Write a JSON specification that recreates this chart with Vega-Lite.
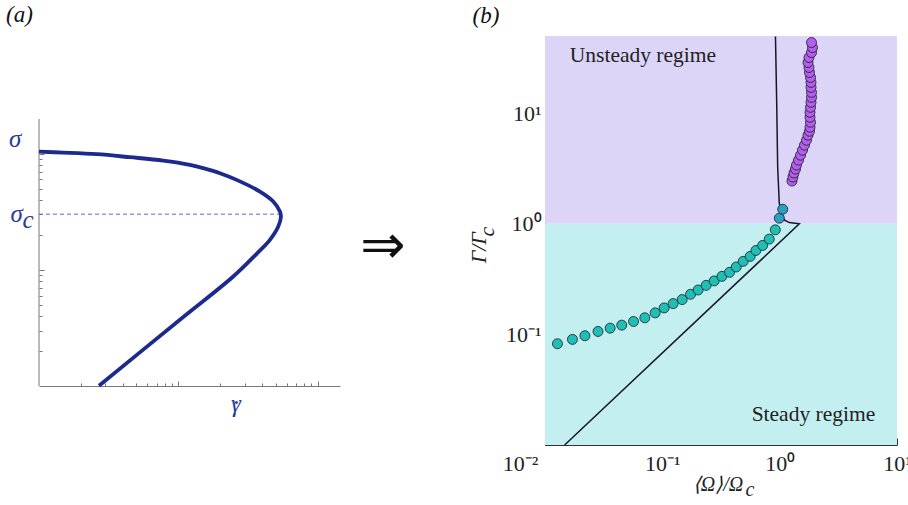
{
  "$schema": "https://vega.github.io/schema/vega-lite/v6.json",
  "background": "white",
  "padding": {"left": 6, "top": 4, "right": 0, "bottom": 0},
  "spacing": 61,
  "config": {"view": {"stroke": null}, "font": "Liberation Serif"},
  "hconcat": [
    {
      "width": 301,
      "height": 350,
      "layer": [
        {
          "data": {"values": [{"x1": 0.1, "x2": 5.46, "y": 3.01}]},
          "mark": {"type": "rule", "color": "#5a6ac8", "strokeWidth": 1, "strokeDash": [4, 3]},
          "encoding": {
            "x": {"field": "x1", "type": "quantitative", "scale": {"type": "log", "domain": [0.1, 14.5], "nice": false},
              "axis": {"orient": "bottom", "values": [0.2,0.3,0.4,0.5,0.6,0.7,0.8,0.9,1,2,3,4,5,6,7,8,9,10], "labels": false, "title": null, "grid": false, "domainColor": "#777", "tickColor": "#777",
                "tickSize": {"condition": {"test": "datum.value == 1 || datum.value == 10", "value": -5}, "value": -3}}},
            "x2": {"field": "x2"},
            "y": {"field": "y", "type": "quantitative", "scale": {"type": "log", "domain": [0.1, 102.8], "nice": false},
              "axis": {"orient": "left", "values": [0.2,0.3,0.4,0.5,0.6,0.7,0.8,0.9,1,2,3,4,5,6,7,8,9,10], "labels": false, "title": null, "grid": false, "domain": false, "tickColor": "#777",
                "tickSize": {"condition": {"test": "datum.value == 1 || datum.value == 10", "value": -5}, "value": -3}}}
          }
        },
        {
          "data": {"values": [{"x": 0.1, "y1": 0.1, "y2": 19.87}]},
          "mark": {"type": "rule", "color": "#777", "strokeWidth": 1},
          "encoding": {
            "x": {"field": "x", "type": "quantitative"},
            "y": {"field": "y1", "type": "quantitative"},
            "y2": {"field": "y2"}
          }
        },
        {
          "data": {"values": [
            {"x": 0.1, "y": 10.38, "o": 1},
            {"x": 0.1494, "y": 10.2, "o": 2},
            {"x": 0.2596, "y": 9.88, "o": 3},
            {"x": 0.4499, "y": 9.31, "o": 4},
            {"x": 0.7804, "y": 8.71, "o": 5},
            {"x": 1.213, "y": 8.0, "o": 6},
            {"x": 1.512, "y": 7.49, "o": 7},
            {"x": 1.992, "y": 6.785, "o": 8},
            {"x": 2.626, "y": 5.94, "o": 9},
            {"x": 3.86, "y": 4.71, "o": 10},
            {"x": 4.808, "y": 3.87, "o": 11},
            {"x": 5.373, "y": 3.172, "o": 12},
            {"x": 5.463, "y": 2.873, "o": 13},
            {"x": 5.224, "y": 2.357, "o": 14},
            {"x": 4.552, "y": 1.811, "o": 15},
            {"x": 3.655, "y": 1.373, "o": 16},
            {"x": 2.47, "y": 0.8706, "o": 17},
            {"x": 1.028, "y": 0.3715, "o": 18},
            {"x": 0.2697, "y": 0.1006, "o": 19}
          ]},
          "mark": {"type": "line", "color": "#1c2a8e", "strokeWidth": 3.8, "interpolate": "catmull-rom"},
          "encoding": {
            "x": {"field": "x", "type": "quantitative"},
            "y": {"field": "y", "type": "quantitative"},
            "order": {"field": "o", "type": "quantitative"}
          }
        },
        {
          "data": {"values": [
            {"x": 0.0673, "y": 11.42, "t": "σ"},
            {"x": 0.069, "y": 2.587, "t": "σ"},
            {"x": 0.0835, "y": 2.297, "t": "c"},
            {"x": 2.59, "y": 0.0601, "t": "γ"}
          ]},
          "mark": {"type": "text", "font": "Liberation Serif", "fontSize": 25, "fontStyle": "italic", "color": "#2b3a9b", "align": "center", "baseline": "alphabetic"},
          "encoding": {
            "x": {"field": "x", "type": "quantitative"},
            "y": {"field": "y", "type": "quantitative"},
            "text": {"field": "t"}
          }
        },
        {
          "data": {"values": [{"x": 2.617, "y": 0.0705, "t": "."}]},
          "mark": {"type": "text", "font": "Liberation Serif", "fontSize": 25, "color": "#2b3a9b", "align": "center", "baseline": "alphabetic"},
          "encoding": {
            "x": {"field": "x", "type": "quantitative"},
            "y": {"field": "y", "type": "quantitative"},
            "text": {"field": "t"}
          }
        },
        {
          "data": {"values": [{"x": 0.058, "y": 135.6, "t": "(a)"}]},
          "mark": {"type": "text", "font": "Liberation Serif", "fontSize": 23, "fontStyle": "italic", "color": "#111", "align": "left", "baseline": "alphabetic"},
          "encoding": {
            "x": {"field": "x", "type": "quantitative"},
            "y": {"field": "y", "type": "quantitative"},
            "text": {"field": "t"}
          }
        },
        {
          "data": {"values": [{"x": 29.4, "y": 1.58, "t": "⇒"}]},
          "mark": {"type": "text", "font": "DejaVu Sans", "fontSize": 54, "color": "#111", "align": "center", "baseline": "middle"},
          "encoding": {
            "x": {"field": "x", "type": "quantitative"},
            "y": {"field": "y", "type": "quantitative"},
            "text": {"field": "t"}
          }
        }
      ]
    },
    {
      "width": 352,
      "height": 409,
      "layer": [
        {
          "data": {"values": [
            {"x1": 0.01, "x2": 10, "y1": 1, "y2": 50, "region": "unsteady"},
            {"x1": 0.01, "x2": 10, "y1": 0.01, "y2": 1, "region": "steady"}
          ]},
          "mark": {"type": "rect"},
          "encoding": {
            "x": {"field": "x1", "type": "quantitative", "scale": {"type": "log", "domain": [0.01, 10], "nice": false},
              "axis": {"orient": "bottom", "values": [0.01,0.02,0.03,0.04,0.05,0.06,0.07,0.08,0.09,0.1,0.2,0.3,0.4,0.5,0.6,0.7,0.8,0.9,1,2,3,4,5,6,7,8,9,10],
                "labelExpr": "datum.value == 0.01 ? '10⁻²' : datum.value == 0.1 ? '10⁻¹' : datum.value == 1 ? '10⁰' : datum.value == 10 ? '10¹' : ''",
                "title": null, "grid": false, "domainColor": "#333", "tickColor": "#333", "labelFlush": false, "labelOverlap": false,
                "labelFont": "Liberation Serif", "labelFontSize": 22, "labelColor": "#222", "labelPadding": 15,
                "labelOffset": {"condition": {"test": "datum.value == 0.01", "value": -25}, "value": 0},
                "tickSize": {"condition": {"test": "indexof([0.01,0.1,1,10], datum.value) >= 0", "value": -7}, "value": -4}}},
            "x2": {"field": "x2"},
            "y": {"field": "y1", "type": "quantitative", "scale": {"type": "log", "domain": [0.01, 50], "nice": false},
              "axis": {"orient": "left", "values": [0.01,0.02,0.03,0.04,0.05,0.06,0.07,0.08,0.09,0.1,0.2,0.3,0.4,0.5,0.6,0.7,0.8,0.9,1,2,3,4,5,6,7,8,9,10,20,30,40],
                "labelExpr": "datum.value == 0.1 ? '10⁻¹' : datum.value == 1 ? '10⁰' : datum.value == 10 ? '10¹' : ''",
                "title": null, "grid": false, "domainColor": "#333", "tickColor": "#333", "labelFlush": false, "labelOverlap": false,
                "labelFont": "Liberation Serif", "labelFontSize": 22, "labelColor": "#222", "labelPadding": 11,
                "tickSize": {"condition": {"test": "indexof([0.01,0.1,1,10], datum.value) >= 0", "value": -7}, "value": -4}}},
            "y2": {"field": "y2"},
            "fill": {"field": "region", "type": "nominal", "scale": {"domain": ["unsteady", "steady"], "range": ["#ddd5f8", "#c4eff0"]}, "legend": null}
          }
        },
        {
          "data": {"values": [
            {"x": 0.0147, "y": 0.01, "o": 1},
            {"x": 1.47, "y": 1.0, "o": 2},
            {"x": 1.207, "y": 1.027, "o": 3},
            {"x": 1.094, "y": 1.086, "o": 4},
            {"x": 1.04, "y": 1.249, "o": 5},
            {"x": 0.992, "y": 1.536, "o": 6},
            {"x": 0.9768, "y": 2.246, "o": 7},
            {"x": 0.9614, "y": 3.283, "o": 8},
            {"x": 0.9427, "y": 13.1, "o": 9},
            {"x": 0.921, "y": 49.4, "o": 10}
          ]},
          "mark": {"type": "line", "color": "#16162a", "strokeWidth": 1.5},
          "encoding": {
            "x": {"field": "x", "type": "quantitative"},
            "y": {"field": "y", "type": "quantitative"},
            "order": {"field": "o", "type": "quantitative"}
          }
        },
        {
          "data": {"values": [
            {"x": 0.01277, "y": 0.0824, "g": "steady"},
            {"x": 0.01714, "y": 0.0902, "g": "steady"},
            {"x": 0.0219, "y": 0.0973, "g": "steady"},
            {"x": 0.0283, "y": 0.1064, "g": "steady"},
            {"x": 0.0359, "y": 0.114, "g": "steady"},
            {"x": 0.0451, "y": 0.1213, "g": "steady"},
            {"x": 0.0568, "y": 0.131, "g": "steady"},
            {"x": 0.0709, "y": 0.1413, "g": "steady"},
            {"x": 0.0869, "y": 0.1567, "g": "steady"},
            {"x": 0.1036, "y": 0.1738, "g": "steady"},
            {"x": 0.1236, "y": 0.19, "g": "steady"},
            {"x": 0.1476, "y": 0.2066, "g": "steady"},
            {"x": 0.174, "y": 0.2307, "g": "steady"},
            {"x": 0.2019, "y": 0.2524, "g": "steady"},
            {"x": 0.2364, "y": 0.278, "g": "steady"},
            {"x": 0.2767, "y": 0.3048, "g": "steady"},
            {"x": 0.322, "y": 0.335, "g": "steady"},
            {"x": 0.374, "y": 0.3646, "g": "steady"},
            {"x": 0.4263, "y": 0.4074, "g": "steady"},
            {"x": 0.489, "y": 0.458, "g": "steady"},
            {"x": 0.561, "y": 0.508, "g": "steady"},
            {"x": 0.628, "y": 0.575, "g": "steady"},
            {"x": 0.716, "y": 0.638, "g": "steady"},
            {"x": 0.815, "y": 0.728, "g": "steady"},
            {"x": 0.918, "y": 0.883, "g": "steady"},
            {"x": 0.993, "y": 1.125, "g": "transition"},
            {"x": 1.062, "y": 1.356, "g": "transition"},
            {"x": 1.274, "y": 2.44, "g": "unsteady"},
            {"x": 1.298, "y": 2.65, "g": "unsteady"},
            {"x": 1.324, "y": 2.88, "g": "unsteady"},
            {"x": 1.364, "y": 3.13, "g": "unsteady"},
            {"x": 1.391, "y": 3.4, "g": "unsteady"},
            {"x": 1.447, "y": 3.77, "g": "unsteady"},
            {"x": 1.505, "y": 4.18, "g": "unsteady"},
            {"x": 1.565, "y": 4.64, "g": "unsteady"},
            {"x": 1.628, "y": 5.15, "g": "unsteady"},
            {"x": 1.693, "y": 5.71, "g": "unsteady"},
            {"x": 1.744, "y": 6.34, "g": "unsteady"},
            {"x": 1.796, "y": 6.88, "g": "unsteady"},
            {"x": 1.814, "y": 7.48, "g": "unsteady"},
            {"x": 1.832, "y": 8.3, "g": "unsteady"},
            {"x": 1.814, "y": 9.2, "g": "unsteady"},
            {"x": 1.814, "y": 10.21, "g": "unsteady"},
            {"x": 1.832, "y": 11.33, "g": "unsteady"},
            {"x": 1.85, "y": 12.56, "g": "unsteady"},
            {"x": 1.868, "y": 13.94, "g": "unsteady"},
            {"x": 1.868, "y": 15.46, "g": "unsteady"},
            {"x": 1.85, "y": 17.15, "g": "unsteady"},
            {"x": 1.85, "y": 19.02, "g": "unsteady"},
            {"x": 1.832, "y": 21.1, "g": "unsteady"},
            {"x": 1.796, "y": 23.4, "g": "unsteady"},
            {"x": 1.778, "y": 25.96, "g": "unsteady"},
            {"x": 1.744, "y": 28.8, "g": "unsteady"},
            {"x": 1.778, "y": 31.96, "g": "unsteady"},
            {"x": 1.868, "y": 35.4, "g": "unsteady"},
            {"x": 1.905, "y": 39.3, "g": "unsteady"},
            {"x": 1.868, "y": 43.6, "g": "unsteady"}
          ]},
          "mark": {"type": "circle", "size": 100, "opacity": 1, "stroke": "#1a1a1a", "strokeWidth": 0.8},
          "encoding": {
            "x": {"field": "x", "type": "quantitative"},
            "y": {"field": "y", "type": "quantitative"},
            "color": {"field": "g", "type": "nominal", "scale": {"domain": ["steady", "transition", "unsteady"], "range": ["#1fbfb8", "#2a9fc4", "#b25ff0"]}, "legend": null}
          }
        },
        {
          "data": {"values": [
            {"x": 0.01626, "y": 28.8, "t": "Unsteady regime"},
            {"x": 0.577, "y": 0.01656, "t": "Steady regime"}
          ]},
          "mark": {"type": "text", "font": "Liberation Serif", "fontSize": 21.5, "color": "#222", "align": "left", "baseline": "alphabetic"},
          "encoding": {
            "x": {"field": "x", "type": "quantitative"},
            "y": {"field": "y", "type": "quantitative"},
            "text": {"field": "t"}
          }
        },
        {
          "data": {"values": [{"x": 0.002415, "y": 66, "t": "(b)"}]},
          "mark": {"type": "text", "font": "Liberation Serif", "fontSize": 23, "fontStyle": "italic", "color": "#111", "align": "left", "baseline": "alphabetic"},
          "encoding": {
            "x": {"field": "x", "type": "quantitative"},
            "y": {"field": "y", "type": "quantitative"},
            "text": {"field": "t"}
          }
        },
        {
          "data": {"values": [
            {"x": 0.298, "y": 0.00385, "t": "⟨Ω⟩/Ω"},
            {"x": 0.558, "y": 0.00347, "t": "c"}
          ]},
          "mark": {"type": "text", "font": "Liberation Serif", "fontSize": 20, "fontStyle": "italic", "color": "#222", "align": "center", "baseline": "alphabetic"},
          "encoding": {
            "x": {"field": "x", "type": "quantitative"},
            "y": {"field": "y", "type": "quantitative"},
            "text": {"field": "t"}
          }
        },
        {
          "data": {"values": [
            {"x": 0.00312, "y": 0.608, "t": "Γ/Γ"},
            {"x": 0.0037, "y": 0.85, "t": "c"}
          ]},
          "mark": {"type": "text", "font": "Liberation Serif", "fontSize": 22, "fontStyle": "italic", "color": "#222", "align": "center", "baseline": "alphabetic", "angle": 270},
          "encoding": {
            "x": {"field": "x", "type": "quantitative"},
            "y": {"field": "y", "type": "quantitative"},
            "text": {"field": "t"}
          }
        }
      ]
    }
  ]
}
